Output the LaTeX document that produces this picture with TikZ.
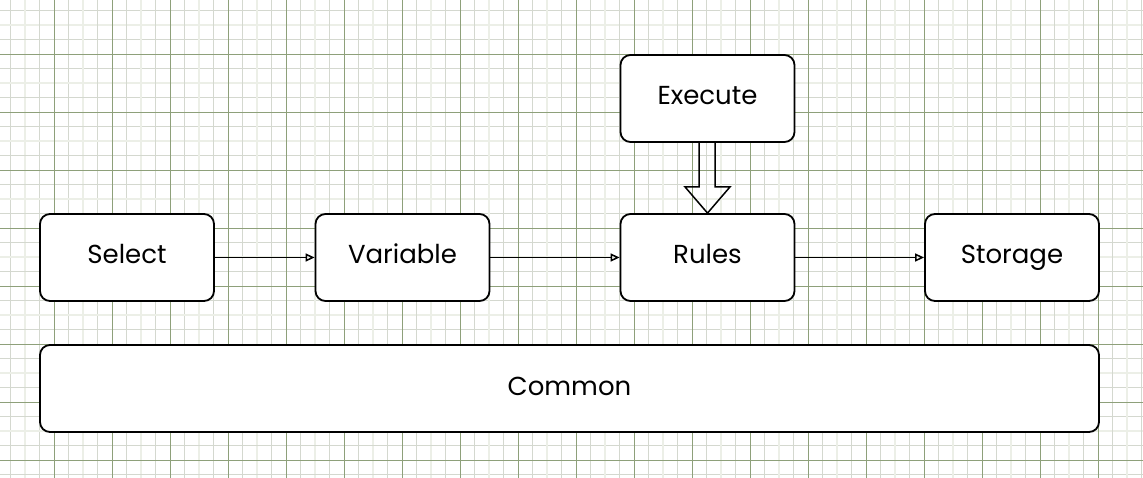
\documentclass[tikz,border=0pt]{standalone}
\usepackage{fontspec}
\setmainfont{Poppins}
\usetikzlibrary{arrows.meta,calc}
\definecolor{gmajor}{RGB}{142,160,122}
\definecolor{gminor}{RGB}{212,216,207}
\definecolor{glight}{RGB}{236,239,231}
\tikzset{
  boxnode/.style={draw=black, line width=1.8pt, rounded corners=10pt, fill=white,
    minimum width=174pt, minimum height=87pt, inner sep=0pt,
    text height=19pt, text depth=6pt,
    font=\fontsize{26}{29}\selectfont},
  flowarrow/.style={draw=black, line width=1.5pt, -{Triangle[open,length=9pt,width=8pt]}},
  blockarrow/.style={draw=black, line width=1.5pt, line join=miter}
}
\begin{document}
\begin{tikzpicture}[x=1pt,y=-1pt]
\useasboundingbox (0,0) rectangle (1143,478);
\fill[white] (0,0) rectangle (1143,478);
\begin{scope}
\clip (0,0) rectangle (1143,478);
\foreach \i in {0,...,82} {
  \pgfmathtruncatemacro\mm{mod(\i,4)}
  \ifnum\mm=2
    \pgfmathsetmacro\pp{round(-3.7+14.5*\i)}
    \draw[glight, line width=2pt] (\pp,0) -- (\pp,478);
    \draw[glight, line width=2pt] (0,\pp) -- (1143,\pp);
  \else
    \pgfmathsetmacro\pp{floor(-3.7+14.5*\i)+0.5}
    \draw[gminor, line width=1pt] (\pp,0) -- (\pp,478);
    \draw[gminor, line width=1pt] (0,\pp) -- (1143,\pp);
  \fi
}
\foreach \i in {0,...,20} {
  \pgfmathsetmacro\pp{floor(-3.7+58*\i)+0.5}
  \draw[gmajor, line width=1pt] (\pp,0) -- (\pp,478);
  \draw[gmajor, line width=1pt] (0,\pp) -- (1143,\pp);
}
\end{scope}

\node[boxnode] (sel) at (127,257.5) {Select};
\node[boxnode] (var) at (402.5,257.5) {Variable};
\node[boxnode] (rul) at (707.5,257.5) {Rules};
\node[boxnode] (sto) at (1012,257.5) {Storage};
\node[boxnode] (exe) at (707.5,98.5) {Execute};
\node[boxnode, minimum width=1059pt] (com) at (569.5,388.5) {Common};

\draw[flowarrow] (sel.east) -- (var.west);
\draw[flowarrow] (var.east) -- (rul.west);
\draw[flowarrow] (rul.east) -- (sto.west);

\draw[blockarrow] ($(exe.south)+(-8.5,0)$) -- ($(exe.south)+(-8.5,44)$)
  -- ($(exe.south)+(-22.5,44)$) -- (rul.north) -- ($(exe.south)+(22.5,44)$)
  -- ($(exe.south)+(7.5,44)$) -- ($(exe.south)+(7.5,0)$);
\end{tikzpicture}
\end{document}
